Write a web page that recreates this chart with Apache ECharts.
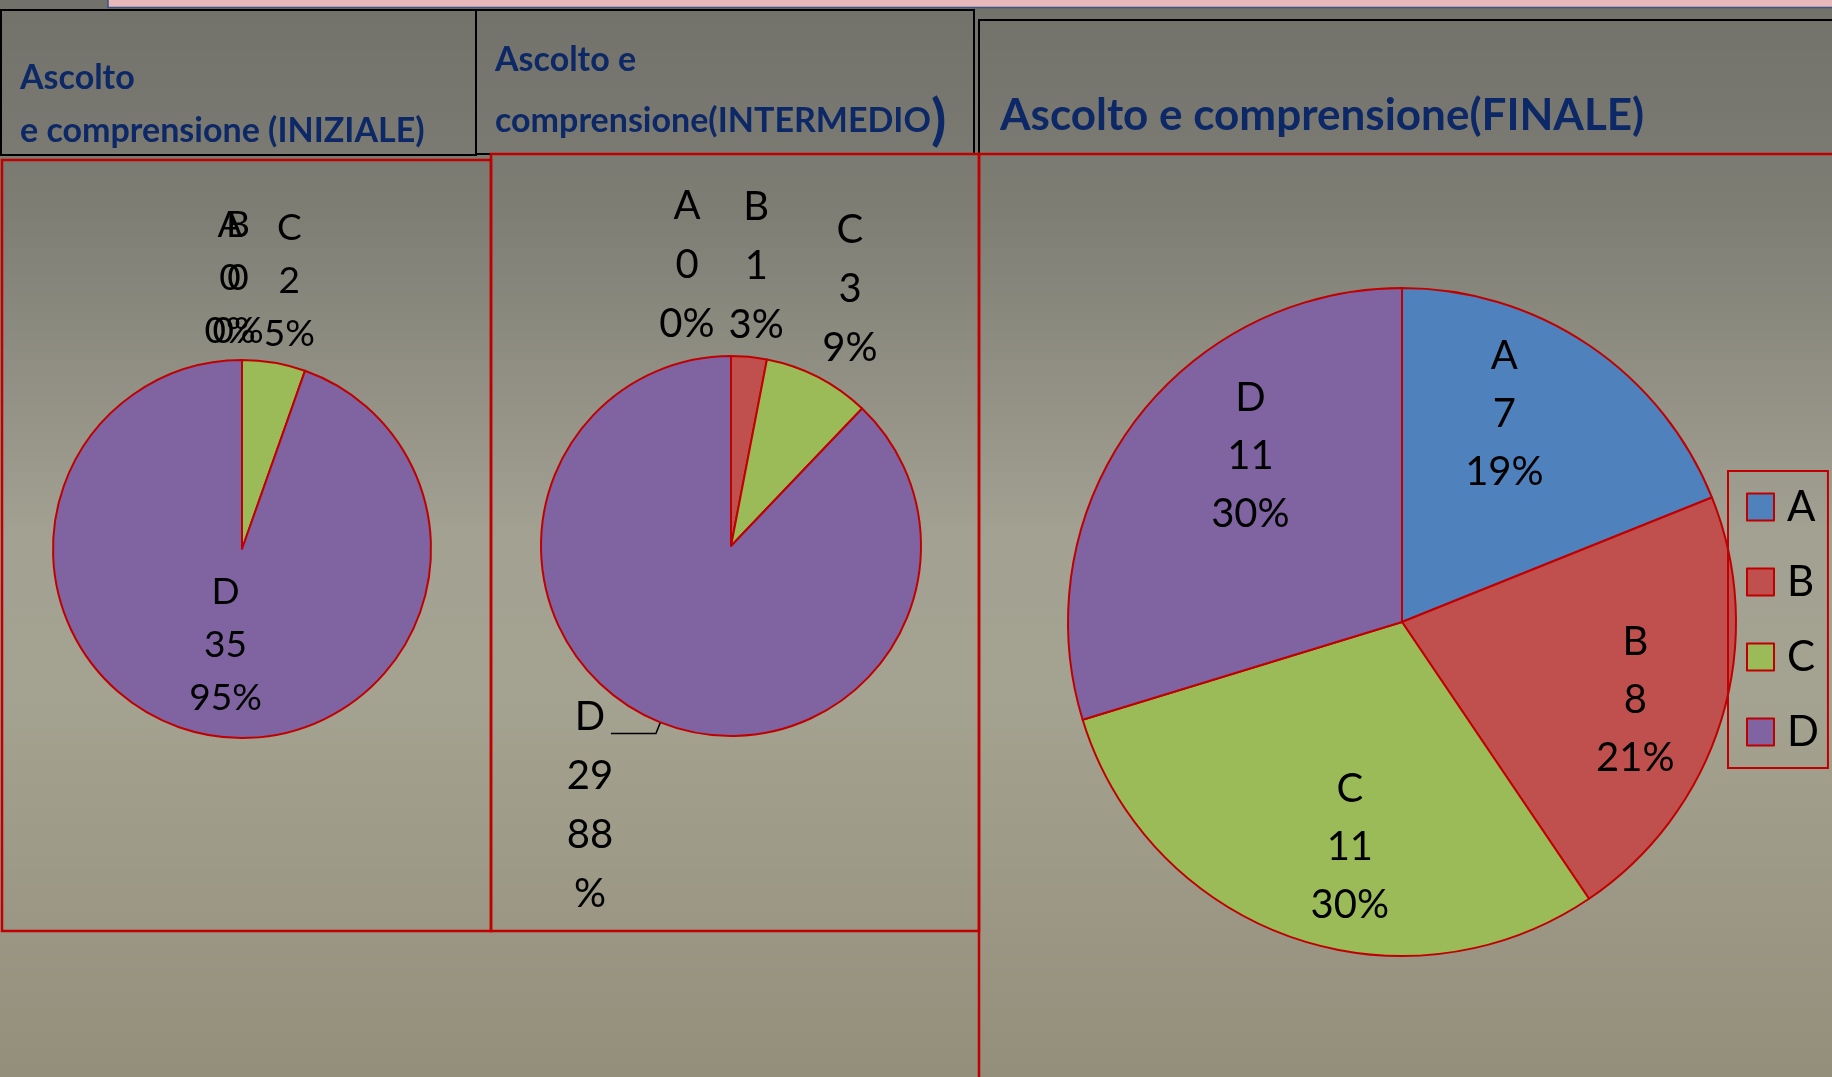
<!DOCTYPE html>
<html><head><meta charset="utf-8">
<script src="https://cdn.jsdelivr.net/npm/echarts@6/dist/echarts.min.js"></script>
<style>html,body{margin:0;padding:0;width:1832px;height:1077px;overflow:hidden}#c{width:1832px;height:1077px}</style>
</head><body><div id="c"></div><script>
// ---- data ----
const categories = ['A', 'B', 'C', 'D'];
const inizialeValues = [0, 0, 2, 35];
const intermedioValues = [0, 1, 3, 29];
const finaleValues = [7, 8, 11, 11];
const titleIniziale = ['Ascolto', 'e comprensione (INIZIALE)'];
const titleIntermedio = ['Ascolto e', 'comprensione(INTERMEDIO', ')'];
const titleFinale = 'Ascolto e comprensione(FINALE)';

// ---- styles ----
const sliceColors = ['#4f81bd', '#c0504d', '#9bbb59', '#8064a2'];
const RED = '#c00000';
const NAVY = '#0d2866';
const FONT = 'Lato';

const pies = [
  { values: inizialeValues, center: [242, 549], r: 189, fs: 37, lh: 53,
    modes: [{t: 'edge', dx: -12}, {t: 'edge', dx: -4}, {t: 'edge', dx: 15}, {t: 'inside'}] },
  { values: intermedioValues, center: [731, 546], r: 190, fs: 40, lh: 59,
    modes: [{t: 'edge', dx: -44}, {t: 'edge', dx: 7}, {t: 'edge', dx: 31, dy: 2}, {t: 'leader', dx: 7}] },
  { values: finaleValues, center: [1402, 622], r: 334, fs: 40, lh: 58,
    modes: [{t: 'scaled', k: 1.38, dx: -29, dy: -14}, {t: 'scaled', k: 1.38, dx: 9, dy: 9},
            {t: 'scaled', k: 1.38, dx: 26, dy: 4}, {t: 'scaled', k: 1.38, dx: 37, dy: -26}] }
];

function layoutFor(cfg) {
  return function (p) {
    const m = cfg.modes[p.dataIndex];
    const r = p.labelRect;
    const dx = m.dx || 0, dy = m.dy || 0;
    if (m.t === 'edge') return { align: 'center', verticalAlign: 'bottom', dx: dx, dy: dy };
    if (m.t === 'scaled') {
      const lx = r.x + r.width / 2, ly = r.y + r.height / 2;
      return { x: cfg.center[0] + (lx - cfg.center[0]) * m.k + dx,
               y: cfg.center[1] + (ly - cfg.center[1]) * m.k + dy,
               align: 'center', verticalAlign: 'middle' };
    }
    if (m.t === 'leader') {
      return { x: r.x + r.width / 2 + dx, y: r.y + r.height / 2 - cfg.lh * 0.78 + dy,
               align: 'center', verticalAlign: 'top',
               labelLinePoints: p.labelLinePoints };
    }
    return {};
  };
}

function buildSeries(cfg) {
  const data = categories.map((name, i) => {
    const item = { name: name, value: cfg.values[i] };
    const m = cfg.modes[i];
    if (m.t === 'inside') item.label = { position: 'inside' };
    if (m.t === 'leader') {
      item.label = { position: 'outside', width: 56, overflow: 'breakAll', distanceToLabelLine: 0 };
      item.labelLine = { show: true, length: 12, length2: 45, lineStyle: { color: '#000', width: 1.5 } };
    }
    return item;
  });
  const allInside = cfg.modes.every(m => m.t === 'scaled');
  return {
    type: 'pie',
    center: cfg.center,
    radius: cfg.r,
    startAngle: 90,
    clockwise: true,
    avoidLabelOverlap: false,
    percentPrecision: 0,
    animation: false,
    silent: true,
    itemStyle: { borderColor: RED, borderWidth: 2 },
    label: {
      show: true,
      position: allInside ? 'inside' : 'outside',
      distanceToLabelLine: 0,
      fontFamily: FONT, fontSize: cfg.fs, lineHeight: cfg.lh, color: '#000',
      formatter: p => p.name + '\n' + p.value + '\n' + p.percent + '%'
    },
    labelLine: { show: false, length: 2, length2: 0 },
    labelLayout: layoutFor(cfg),
    data: data
  };
}

const titleFont = (s) => 'bold ' + s + 'px ' + FONT;

const option = {
  backgroundColor: { type: 'linear', x: 0, y: 0, x2: 0, y2: 1, colorStops: [
    { offset: 0, color: '#72716a' }, { offset: 0.2, color: '#7f7e75' },
    { offset: 0.5, color: '#a3a192' }, { offset: 0.65, color: '#a4a290' },
    { offset: 1, color: '#948f7b' } ] },
  color: sliceColors,
  animation: false,
  legend: {
    data: categories,
    orient: 'vertical',
    left: 1728, top: 471,
    padding: [15, 9, 15, 18],
    itemGap: 33,
    itemWidth: 27, itemHeight: 27,
    icon: 'rect',
    borderColor: RED, borderWidth: 2,
    itemStyle: { borderColor: RED, borderWidth: 2 },
    textStyle: { fontFamily: FONT, fontSize: 42, lineHeight: 41, color: '#000', padding: [0, 0, 0, 8] },
    selectedMode: false
  },
  graphic: [
    { type: 'rect', shape: { x: 108, y: 0, width: 1724, height: 7 }, style: { fill: '#e8b8ba' } },
    { type: 'line', shape: { x1: 108, y1: 7.5, x2: 1832, y2: 7.5 }, style: { stroke: '#3b5584', lineWidth: 1.5 } },
    { type: 'line', shape: { x1: 108, y1: 0, x2: 108, y2: 8 }, style: { stroke: '#3b5584', lineWidth: 1.5 } },
    { type: 'rect', shape: { x: 1, y: 10, width: 475, height: 145 }, style: { fill: 'none', stroke: '#000', lineWidth: 2 } },
    { type: 'rect', shape: { x: 476, y: 10, width: 498, height: 144 }, style: { fill: 'none', stroke: '#000', lineWidth: 2 } },
    { type: 'rect', shape: { x: 979, y: 20, width: 870, height: 134 }, style: { fill: 'none', stroke: '#000', lineWidth: 2 } },
    { type: 'rect', shape: { x: 2, y: 160, width: 489, height: 771 }, style: { fill: 'none', stroke: RED, lineWidth: 2.5 } },
    { type: 'rect', shape: { x: 491, y: 154, width: 488, height: 777 }, style: { fill: 'none', stroke: RED, lineWidth: 2.5 } },
    { type: 'rect', shape: { x: 979, y: 154, width: 870, height: 940 }, style: { fill: 'none', stroke: RED, lineWidth: 2.5 } },
    { type: 'text', x: 20, y: 78, style: { text: titleIniziale[0], font: titleFont(34), fill: NAVY, verticalAlign: 'middle' } },
    { type: 'text', x: 20, y: 131, style: { text: titleIniziale[1], font: titleFont(34), fill: NAVY, verticalAlign: 'middle' } },
    { type: 'text', x: 495, y: 60, style: { text: titleIntermedio[0], font: titleFont(34), fill: NAVY, verticalAlign: 'middle' } },
    { type: 'text', x: 495, y: 121, style: { text: '{a|' + titleIntermedio[1] + '}{b|' + titleIntermedio[2] + '}',
        fill: NAVY, verticalAlign: 'middle',
        rich: { a: { font: titleFont(34), fill: NAVY }, b: { font: titleFont(56), fill: NAVY } } } },
    { type: 'text', x: 1000, y: 116, style: { text: titleFinale, font: titleFont(44), fill: NAVY, verticalAlign: 'middle' } }
  ],
  series: pies.map(buildSeries)
};

const chart = echarts.init(document.getElementById('c'), null, { renderer: 'canvas' });
chart.setOption(option);
</script></body></html>
